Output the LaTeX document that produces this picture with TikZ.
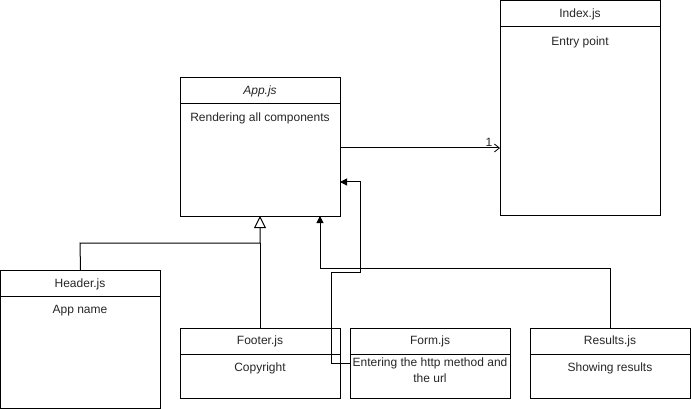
\documentclass[tikz,border=0pt]{standalone}
\usepackage{fontspec}
\setmainfont{Liberation Sans}
\usetikzlibrary{arrows.meta,calc}
\begin{document}
\begin{tikzpicture}[x=1pt,y=-1pt,line width=1pt,
  box/.style={draw=black,anchor=north west,minimum width=160pt,inner sep=0pt,outer sep=0pt},
  txt/.style={font=\fontsize{12pt}{14pt}\selectfont,inner sep=0pt,text=black!85},
  openarr/.style={-{Straight Barb[length=5pt,width=8pt,line width=0.8pt]}},
  blockarr/.style={-{Triangle[length=7pt,width=7pt]}},
  inherit/.style={-{Triangle[open,length=12pt,width=12pt,fill=white]}}]
\useasboundingbox (0,0) rectangle (691,409);
% boxes
\node[box,minimum height=214pt] (index) at (500,1) {};
\node[box,minimum height=138pt] (app) at (180,78) {};
\node[box,minimum height=138pt] (header) at (0.5,270) {};
\node[box,minimum height=70pt] (footer) at (180,328) {};
\node[box,minimum height=70pt] (form) at (350,328) {};
\node[box,minimum height=70pt] (results) at (530,328) {};
% compartment lines
\draw ($(index.north west)+(0,26)$) -- ($(index.north east)+(0,26)$);
\draw ($(app.north west)+(0,26)$) -- ($(app.north east)+(0,26)$);
\draw ($(header.north west)+(0,26)$) -- ($(header.north east)+(0,26)$);
\draw ($(footer.north west)+(0,26)$) -- ($(footer.north east)+(0,26)$);
\draw ($(form.north west)+(0,26)$) -- ($(form.north east)+(0,26)$);
\draw ($(results.north west)+(0,26)$) -- ($(results.north east)+(0,26)$);
% texts
\node[txt] (indext) at (580,14) {Index.js};
\node[txt] (indexb) at (580,42) {Entry point};
\node[txt] (appt) at (260,91) {\itshape App.js};
\node[txt] (appb) at (260,118) {Rendering all components};
\node[txt] (headert) at (80,284) {Header.js};
\node[txt] (headerb) at (80,311) {App name};
\node[txt] (footert) at (260,341) {Footer.js};
\node[txt] (footerb) at (260,368) {Copyright};
\node[txt] (formt) at (430,341) {Form.js};
\node[txt,align=center,font=\fontsize{12pt}{16pt}\selectfont] (formb) at (430,370) {Entering the http method and\\the url};
\node[txt] (resultst) at (610,341) {Results.js};
\node[txt] (resultsb) at (610,368) {Showing results};
% connectors
\coordinate (appR) at (app.east |- 0,148);
\coordinate (indexL) at (index.west |- 0,148);
\draw[openarr] (appR) -- (indexL);
\node[txt] (one) at (489,142) {1};
\coordinate (inhTip) at (260,216);
\draw[inherit] (header.north) -- (80,243) -- (260,243) -- (inhTip);
\draw (footer.north) -- (260,243);
\coordinate (resTip) at (320,216);
\draw[blockarr] (results.north) -- (610,268) -- (320,268) -- (resTip);
\coordinate (formTip) at (340,182);
\draw[blockarr] (form.west) -- (331,363) -- (331,272) -- (360,272) -- (360,182) -- (formTip);
\end{tikzpicture}
\end{document}
